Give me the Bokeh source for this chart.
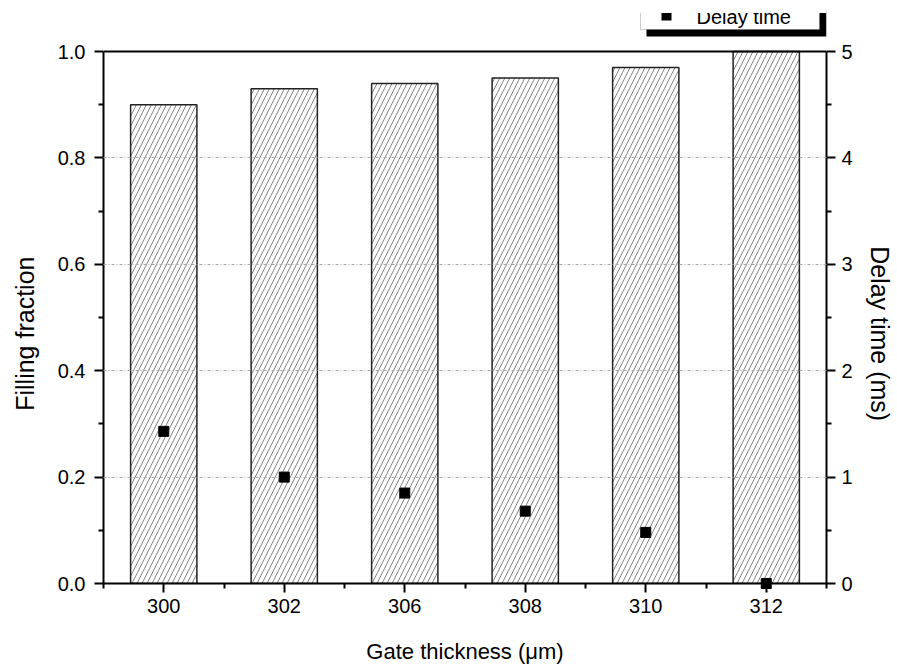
from bokeh.plotting import figure
from bokeh.models import (Range1d, LinearAxis, FixedTicker, ColumnDataSource,
                          BoxAnnotation, Label, Span, CustomJSTickFormatter)
from bokeh.embed import file_html
from bokeh.resources import INLINE

categories = ["300", "302", "306", "308", "310", "312"]
filling_fraction = [0.90, 0.93, 0.94, 0.95, 0.97, 1.00]
delay_time = [1.43, 1.00, 0.85, 0.68, 0.48, 0.0]
left_ticks = [0.0, 0.2, 0.4, 0.6, 0.8, 1.0]
right_ticks = [0, 1, 2, 3, 4, 5]
legend_label = "Delay time"

xpos = list(range(len(categories)))
FONT = "Liberation Sans"
NB = "\u00a0" * 12   # non-breaking padding to move rotated axis titles down

W, H = 897, 669
FRAME_LEFT, FRAME_RIGHT = 103, 826
AX_TOP, AX_BOTTOM = 51, 583          # pixel rows of 1.0 and 0.0
LEFT_MAX, RIGHT_MAX = 1.0, 5.0
# frame reaches the top of the canvas so the legend (drawn above the axes) is visible
ext = AX_BOTTOM / (AX_BOTTOM - AX_TOP)

p = figure(width=W, height=H, output_backend="svg", toolbar_location=None,
           x_range=Range1d(-0.5, len(categories) - 0.5),
           y_range=Range1d(0, LEFT_MAX * ext),
           min_border_left=FRAME_LEFT, min_border_right=W - FRAME_RIGHT,
           min_border_top=0, min_border_bottom=H - AX_BOTTOM)
p.extra_y_ranges = {"delay": Range1d(0, RIGHT_MAX * ext)}

src = ColumnDataSource(dict(x=xpos, top=filling_fraction, delay=delay_time))
p.vbar(x="x", top="top", bottom=0, width=0.55, source=src,
       fill_color="white", line_color="#222222", line_width=1.5,
       hatch_pattern="/", hatch_color="#777777", hatch_scale=10, hatch_weight=0.9)

# gridlines above bars
p.xgrid.visible = False
p.ygrid.ticker = FixedTicker(ticks=[0.2, 0.4, 0.6, 0.8])
p.ygrid.grid_line_color = "#aaaaaa"
p.ygrid.grid_line_dash = "3 2 1 2"
p.ygrid.grid_line_width = 1
p.ygrid.level = "annotation"

p.scatter(x="x", y="delay", source=src, y_range_name="delay", marker="square",
          size=10, fill_color="black", line_color="black", level="overlay")

p.xaxis.ticker = FixedTicker(ticks=xpos, minor_ticks=[i - 0.5 for i in range(len(categories) + 1)])
p.xaxis.major_label_overrides = {i: c for i, c in zip(xpos, categories)}
p.yaxis.ticker = FixedTicker(ticks=left_ticks, minor_ticks=[0.1, 0.3, 0.5, 0.7, 0.9])
p.yaxis.formatter = CustomJSTickFormatter(code="return tick.toFixed(1);")
p.yaxis.bounds = (0, LEFT_MAX)

ra = LinearAxis(y_range_name="delay", axis_label=NB + "Delay time (ms)", bounds=(0, RIGHT_MAX))
ra.ticker = FixedTicker(ticks=right_ticks, minor_ticks=[0.5, 1.5, 2.5, 3.5, 4.5])
p.add_layout(ra, "right")

p.xaxis.axis_label = "Gate thickness (\u03bcm)"
p.yaxis[0].axis_label = "Filling fraction" + NB

for ax in [p.xaxis[0], p.yaxis[0], ra]:
    ax.axis_line_width = 2
    ax.axis_line_color = "black"
    ax.major_tick_line_width = 2
    ax.minor_tick_line_width = 2
    ax.major_tick_in = 0
    ax.major_tick_out = 9
    ax.minor_tick_in = 0
    ax.minor_tick_out = 5
    ax.major_label_text_font = FONT
    ax.major_label_text_font_size = "20px"
    ax.major_label_text_color = "black"
    ax.axis_label_text_font = FONT
    ax.axis_label_text_font_size = "25px"
    ax.axis_label_text_font_style = "normal"
    ax.axis_label_text_color = "black"
p.xaxis.axis_label_text_font_size = "22px"
p.xaxis.major_label_standoff = 6
p.xaxis.axis_label_standoff = 23
p.yaxis[0].major_label_standoff = 9
p.yaxis[0].axis_label_standoff = 16
ra.major_label_standoff = 6
ra.axis_label_standoff = 10

# top border of the axes box
p.add_layout(Span(location=LEFT_MAX, dimension="width", line_color="black", line_width=2))

p.outline_line_color = None
p.background_fill_color = "white"
p.border_fill_color = "white"

def canvas_box(**kw):
    return BoxAnnotation(left_units="canvas", right_units="canvas",
                         top_units="canvas", bottom_units="canvas",
                         fill_alpha=1, level="overlay", **kw)

# legend box with drop shadow (upper part cut off as in the source picture)
p.add_layout(canvas_box(left=646, right=826, top=10, bottom=36,
                        fill_color="black", line_color=None))
p.add_layout(canvas_box(left=640, right=819, top=5, bottom=29,
                        fill_color="white", line_color="#555555", line_width=1))
p.add_layout(canvas_box(left=661, right=671, top=10, bottom=20,
                        fill_color="black", line_color=None))
p.add_layout(Label(x=696, y=16, x_units="canvas", y_units="canvas", text=legend_label,
                   text_font=FONT, text_font_size="20px", text_align="left",
                   text_baseline="alphabetic", text_color="black", level="overlay"))
p.add_layout(canvas_box(left=600, right=880, top=0, bottom=12.5,
                        fill_color="white", line_color=None))

open("out.html", "w").write(file_html(p, INLINE))
